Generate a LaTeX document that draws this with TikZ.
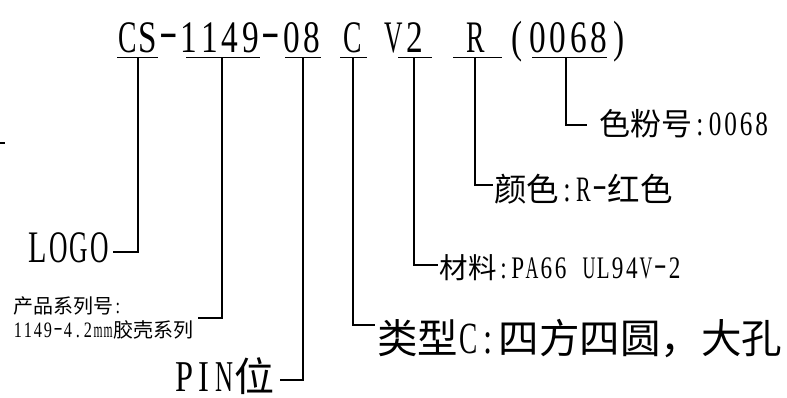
\documentclass[tikz,border=0pt]{standalone}
\usepackage{fontspec}
\usepackage{graphicx}
\setmainfont{Noto Sans CJK SC}
\newfontfamily\latinfont[Scale=1.1,FakeStretch=0.74]{Liberation Serif}
\newlength\hcell
\newlength\hcellmax
\newsavebox\hwbox
\makeatletter
\newcommand\sz[2]{\fontsize{#1pt}{#2pt}\selectfont\setlength\hcell{\dimexpr #1pt/2\relax}\setlength\hcellmax{\dimexpr #1pt*9/20\relax}}
\newcommand\hw[1]{\hw@loop#1\@nil}
\def\hw@loop#1{\ifx\@nil#1\else\hw@c{#1}\expandafter\hw@loop\fi}
\def\hw@c#1{\sbox\hwbox{\latinfont#1}%
  \ifx-#1\makebox[\hcell]{\raisebox{0.28\hcell}{\resizebox{0.9\hcell}{\height}{\usebox\hwbox}}}%
  \else\ifdim\wd\hwbox>\hcellmax\makebox[\hcell]{\resizebox{\hcellmax}{\height}{\usebox\hwbox}}%
  \else\makebox[\hcell]{\usebox\hwbox}\fi\fi}
\makeatother
\tikzset{
  lab/.style={inner sep=0pt, text=black},
  conn/.style={line width=1.6pt, black},
  uline/.style={line width=1.3pt, black},
}
\begin{document}
\begin{tikzpicture}[x=1pt,y=-1pt]
\useasboundingbox[fill=white] (0,0) rectangle (787,397);
% code string
\node[lab, anchor=base west, font=\sz{41}{41}] (code) at (117,52) {\hw{CS-1149-08~C~V2~~R~(0068)}};
% underlines
\draw[uline] (117,57.5) -- (158,57.5);
\draw[uline] (186,57.5) -- (260,57.5);
\draw[uline] (285,57.5) -- (321,57.5);
\draw[uline] (340,57.5) -- (367,57.5);
\draw[uline] (398,57.5) -- (432,57.5);
\draw[uline] (453,57.5) -- (502,57.5);
\draw[uline] (532,57.5) -- (607,57.5);
% tap points
\coordinate (tCS) at (138,57.5);
\coordinate (tSer) at (222,57.5);
\coordinate (tPin) at (303,57.5);
\coordinate (tTyp) at (353,57.5);
\coordinate (tMat) at (414,57.5);
\coordinate (tCol) at (475,57.5);
\coordinate (tPow) at (566,57.5);
% labels
\node[lab, anchor=base west, outer xsep=12pt, text height=20pt, text depth=0pt, font=\sz{31}{31}] (pow) at (587,135) {色粉号\hw{:0068}};
\node[lab, anchor=base west, outer xsep=1pt, text height=32pt, text depth=0pt, font=\sz{32.5}{32.5}] (col) at (493,201) {颜色\hw{:R-}红色};
\node[lab, anchor=base west, outer xsep=1.5pt, text height=26pt, text depth=0pt, font=\sz{28.5}{28.5}] (mat) at (438,278) {材料\hw{:PA66~UL94V-2}};
\node[lab, anchor=base west, outer xsep=2pt, text height=56pt, text depth=0pt, font=\sz{40.5}{40.5}] (typ) at (375,353) {类型\hw{C:}四方四圆，大孔};
\node[lab, anchor=base east, outer xsep=6pt, text height=22pt, text depth=0pt, font=\sz{40}{40}] (pin) at (280,391) {\hw{PIN}位};
\node[lab, anchor=base east, outer xsep=3.5pt, text height=20pt, text depth=0pt, font=\sz{41}{41}] (logo) at (113,262) {\hw{LOGO}};
\node[lab, anchor=east, outer xsep=5pt, align=left, font=\sz{20}{24}] (ser) at (198,318) {产品系列号\hw{:}\\\hw{1149-4.2mm}胶壳系列};
% connectors
\draw[conn] (tCS) |- (logo);
\draw[conn] (tSer) |- (ser);
\draw[conn] (tPin) |- (pin);
\draw[conn] (tTyp) |- (typ);
\draw[conn] (tMat) |- (mat);
\draw[conn] (tCol) |- (col);
\draw[conn] (tPow) |- (pow);
% small mark at left edge
\draw[line width=1.6pt] (0,143) -- (4.5,143);
\end{tikzpicture}
\end{document}
